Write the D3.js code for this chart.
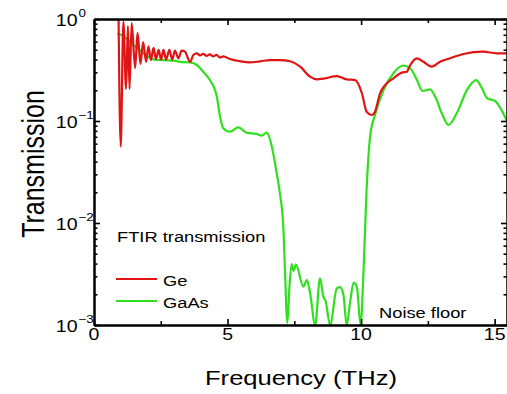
<!DOCTYPE html>
<html>
<head>
<meta charset="utf-8">
<script src="https://cdn.jsdelivr.net/npm/d3@7/dist/d3.min.js"></script>
<style>
  html, body { margin: 0; padding: 0; background: #fff; }
  svg { display: block; font-family: "Liberation Sans", Arial, sans-serif; }
</style>
</head>
<body>
<svg id="chart" width="507" height="394"></svg>
<script>
// ---------------- data ----------------
const geFreq = [0.92, 1.00, 1.10, 1.20, 1.27, 1.33, 1.41, 1.54, 1.63, 1.74, 1.84, 1.95, 2.04, 2.13, 2.23, 2.32, 2.42, 2.51, 2.60, 2.70, 2.82, 2.93, 3.03, 3.16, 3.28, 3.40, 3.60, 3.72, 3.85, 3.97, 4.09, 4.21, 4.34, 4.46, 4.59, 4.72, 4.84, 5.09, 5.47, 5.84, 6.22, 6.59, 6.97, 7.34, 7.72, 8.09, 8.34, 8.65, 9.09, 9.46, 9.78, 10.03, 10.21, 10.40, 10.52, 10.71, 10.90, 11.21, 11.52, 11.71, 11.84, 12.09, 12.33, 12.65, 12.96, 13.33, 13.83, 14.58, 15.08, 15.46];
const geTrans = [1.0, 0.056, 0.94, 0.206, 0.85, 0.206, 0.91, 0.33, 0.73, 0.362, 0.595, 0.38, 0.54, 0.396, 0.52, 0.405, 0.497, 0.40, 0.497, 0.40, 0.497, 0.40, 0.49, 0.41, 0.49, 0.48, 0.38, 0.444, 0.46, 0.44, 0.455, 0.435, 0.45, 0.43, 0.445, 0.42, 0.43, 0.405, 0.385, 0.375, 0.385, 0.396, 0.396, 0.385, 0.341, 0.272, 0.256, 0.262, 0.276, 0.256, 0.252, 0.187, 0.123, 0.1145, 0.123, 0.187, 0.225, 0.262, 0.298, 0.304, 0.354, 0.412, 0.381, 0.341, 0.381, 0.412, 0.454, 0.478, 0.461, 0.461];

const gaasFreq = [0.87, 1.10, 1.22, 1.50, 1.72, 2.00, 2.25, 2.60, 3.00, 3.22, 3.60, 3.85, 4.09, 4.34, 4.60, 4.72, 4.84, 5.09, 5.40, 5.72, 6.09, 6.28, 6.47, 6.66, 6.84, 6.97, 7.09, 7.15, 7.24, 7.31, 7.40, 7.47, 7.56, 7.84, 7.97, 8.09, 8.28, 8.46, 8.59, 8.67, 8.84, 9.09, 9.21, 9.34, 9.46, 9.59, 9.72, 9.84, 9.98, 10.09, 10.20, 10.34, 10.52, 10.84, 11.21, 11.58, 11.84, 12.09, 12.30, 12.58, 12.79, 13.02, 13.27, 13.58, 13.96, 14.31, 14.51, 14.72, 15.02, 15.28, 15.46];
const gaasTrans = [0.72, 0.68, 0.64, 0.55, 0.497, 0.43, 0.40, 0.395, 0.39, 0.38, 0.375, 0.354, 0.304, 0.252, 0.173, 0.110, 0.0848, 0.0785, 0.0867, 0.0768, 0.0746, 0.0718, 0.0768, 0.056, 0.0307, 0.0188, 0.00893, 0.00339, 0.00105, 0.0022, 0.00396, 0.0034, 0.0039, 0.00238, 0.00276, 0.00205, 0.001, 0.00287, 0.00189, 0.00172, 0.001, 0.00229, 0.00235, 0.00197, 0.001, 0.00168, 0.0026, 0.00237, 0.001, 0.00331, 0.0197, 0.0713, 0.1145, 0.201, 0.294, 0.35, 0.329, 0.252, 0.197, 0.204, 0.17, 0.119, 0.0914, 0.119, 0.201, 0.252, 0.213, 0.167, 0.157, 0.125, 0.1];

const xMajorTicks = [0, 5, 10, 15];
const xMinorTicks = [2.5, 7.5, 12.5];
const yExponents = [0, -1, -2, -3];
const seriesNames = ["Ge", "GaAs"];
const seriesColors = ["#e01414", "#2ee01e"];

// ---------------- layout ----------------
const L = 94, R = 508, T = 19, B = 325;
const S = 1.22; // horizontal text stretch seen in the reference
const svg = d3.select("#chart");

const x = d3.scaleLinear().domain([0, 15.5]).range([L, R]);
const y = d3.scaleLog().domain([1e-3, 1]).range([B, T]);

svg.append("defs").append("clipPath").attr("id", "clip")
  .append("rect").attr("x", L).attr("y", T).attr("width", R - L).attr("height", B - T);

// ---------------- series ----------------
const line = d3.line()
  .x(d => x(d[0])).y(d => y(d[1]))
  .curve(d3.curveMonotoneX);

const geData = geFreq.map((f, i) => [f, geTrans[i]]);
const gaasData = gaasFreq.map((f, i) => [f, gaasTrans[i]]);

const plot = svg.append("g").attr("clip-path", "url(#clip)");
plot.append("path").datum(gaasData).attr("d", line)
  .attr("fill", "none").attr("stroke", seriesColors[1]).attr("stroke-width", 2.2)
  .attr("stroke-linejoin", "round");
plot.append("path").datum(geData).attr("d", line)
  .attr("fill", "none").attr("stroke", seriesColors[0]).attr("stroke-width", 2.2)
  .attr("stroke-linejoin", "round");

// ---------------- axes ----------------
function styleAxis(g) {
  g.selectAll("text").remove();
  g.select(".domain").attr("stroke", "#000").attr("stroke-width", 2);
  g.selectAll(".tick line").attr("stroke", "#000").attr("stroke-width", 1.6);
}
const yMajor = yExponents.map(e => Math.pow(10, e));
const yMinor = [];
[-3, -2, -1].forEach(e => { for (let k = 2; k <= 9; k++) yMinor.push(k * Math.pow(10, e)); });

svg.append("g").attr("transform", `translate(0,${B})`)
  .call(d3.axisBottom(x).tickValues(xMajorTicks).tickSize(-6).tickSizeOuter(0)).call(styleAxis);
svg.append("g").attr("transform", `translate(0,${B})`)
  .call(d3.axisBottom(x).tickValues(xMinorTicks).tickSize(-4).tickSizeOuter(0)).call(styleAxis);
svg.append("g").attr("transform", `translate(0,${T})`)
  .call(d3.axisTop(x).tickValues(xMajorTicks).tickSize(-6).tickSizeOuter(0)).call(styleAxis);
svg.append("g").attr("transform", `translate(0,${T})`)
  .call(d3.axisTop(x).tickValues(xMinorTicks).tickSize(-4).tickSizeOuter(0)).call(styleAxis);
svg.append("g").attr("transform", `translate(${L},0)`)
  .call(d3.axisLeft(y).tickValues(yMajor).tickSize(-6).tickSizeOuter(0)).call(styleAxis);
svg.append("g").attr("transform", `translate(${L},0)`)
  .call(d3.axisLeft(y).tickValues(yMinor).tickSize(-3.5).tickSizeOuter(0)).call(styleAxis);
svg.append("g").attr("transform", `translate(${R - 1},0)`)
  .call(d3.axisRight(y).tickValues(yMajor).tickSize(-6).tickSizeOuter(0)).call(styleAxis);
svg.append("g").attr("transform", `translate(${R - 1},0)`)
  .call(d3.axisRight(y).tickValues(yMinor).tickSize(-3.5).tickSizeOuter(0)).call(styleAxis);

// ---------------- tick labels ----------------
function stretchedText(px, py, str, size, anchor) {
  return svg.append("text")
    .attr("transform", `translate(${px},${py}) scale(${S},1)`)
    .attr("text-anchor", anchor).attr("font-size", size).attr("fill", "#000")
    .text(str);
}
xMajorTicks.forEach(v => stretchedText(x(v), B + 14.5, String(v), 16, "middle"));
yExponents.forEach(e => {
  const py = y(Math.pow(10, e));
  stretchedText(77.5, py + 7, "10", 16, "end");
  stretchedText(78.5, py - 2, String(e).replace("-", "\u2212"), 11, "start");
});

// ---------------- titles ----------------
stretchedText(301, 385, "Frequency (THz)", 21, "middle");
svg.append("text")
  .attr("transform", `translate(44,164) scale(${S},1) rotate(-90)`)
  .attr("text-anchor", "middle").attr("font-size", 25).attr("fill", "#000")
  .text("Transmission");

// ---------------- annotations & legend ----------------
stretchedText(117, 242, "FTIR transmission", 15, "start");
stretchedText(379, 318, "Noise floor", 15, "start");

const legendY = [279, 301];
seriesNames.forEach((name, i) => {
  svg.append("line").attr("x1", 116).attr("x2", 157)
    .attr("y1", legendY[i]).attr("y2", legendY[i])
    .attr("stroke", seriesColors[i]).attr("stroke-width", 2.2);
  stretchedText(163, legendY[i] + 6.5, name, 15, "start");
});
</script>
</body>
</html>
